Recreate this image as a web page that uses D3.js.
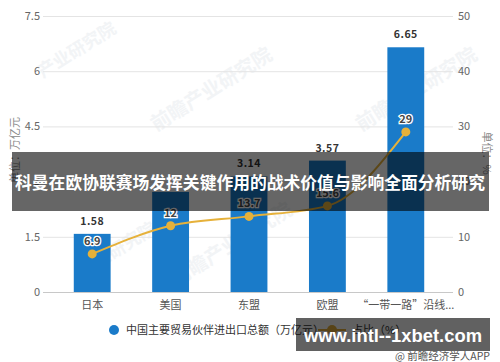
<!DOCTYPE html>
<html><head><meta charset="utf-8">
<script src="https://cdn.jsdelivr.net/npm/d3@7/dist/d3.min.js"></script>
<style>
html,body{margin:0;padding:0;background:#fff;}
svg{display:block;font-family:"Noto Sans CJK SC","Noto Sans",sans-serif;}
</style></head>
<body>
<svg id="c" width="500" height="362"></svg>
<script>
const categories = ["日本", "美国", "东盟", "欧盟", "“一带一路”沿线..."];
const tradeTotals = [1.58, 2.72, 3.14, 3.57, 6.65];
const shares = [6.9, 12, 13.7, 15.6, 29];
const leftTicks = [0, 1.5, 3, 4.5, 6, 7.5];
const rightTicks = [0, 10, 20, 30, 40, 50];
const barLabels = ["1.58", "", "3.14", "3.57", "6.65"];
const shareLabels = ["6.9", "12", "13.7", "15.6", "29"];
const title = "科曼在欧协联赛场发挥关键作用的战术价值与影响全面分析研究";
const legendBar = "中国主要贸易伙伴进出口总额（万亿元）";
const legendLine = "占比（%）";
const leftTitle = "单位：万亿元";
const rightTitle = "单位：%";
const siteMark = "www.intl--1xbet.com";
const sourceMark = "@ 前瞻经济学人APP";
const watermarks = ["前瞻产业研究院", "产业研究院"];

const svg = d3.select("#c");
const plotL = 43, plotR = 453, plotTop = 16, plotBottom = 292;

const x = d3.scaleBand().domain(categories).range([53, 445]).paddingInner(0.53).paddingOuter(0.265);
const yL = d3.scaleLinear().domain([0, 7.5]).range([plotBottom, plotTop]);
const yR = d3.scaleLinear().domain([0, 50]).range([plotBottom, plotTop]);

// faint watermarks
const wm = svg.append("g").attr("fill", "#f2f4f6").attr("font-weight", "bold");
[[80, 55, 0.8, 1], [215, 95, 0.9, 0], [420, 95, 0.9, 0], [235, 250, 0.9, 0], [120, 255, 0.8, 1]].forEach(([cx, cy, s, i]) => {
  wm.append("text").attr("transform", `translate(${cx},${cy}) rotate(-32) scale(${s})`)
    .attr("text-anchor", "middle").attr("font-size", 22).text(watermarks[i]);
});

// gridlines
svg.append("g").selectAll("line").data(leftTicks).join("line")
  .attr("x1", plotL).attr("x2", plotR)
  .attr("y1", d => yL(d) + 0.5).attr("y2", d => yL(d) + 0.5)
  .attr("stroke", d => d === 0 ? "#c8c8c8" : "#e4e4e4").attr("stroke-width", 1);

// left axis labels
svg.append("g").selectAll("text").data(leftTicks).join("text")
  .attr("x", 40).attr("y", d => yL(d)).attr("dy", "0.35em")
  .attr("text-anchor", "end").attr("font-size", 11).attr("fill", "#666")
  .text(d => d);
// right axis labels
svg.append("g").selectAll("text").data(rightTicks).join("text")
  .attr("x", 458).attr("y", d => yR(d)).attr("dy", "0.35em")
  .attr("text-anchor", "start").attr("font-size", 11).attr("fill", "#666")
  .text(d => d);

// axis titles
svg.append("text").attr("transform", "translate(15,150) rotate(-90)")
  .attr("text-anchor", "middle").attr("dy", "0.35em").attr("font-size", 11).attr("fill", "#888").text(leftTitle);
svg.append("text").attr("transform", "translate(487,153) rotate(90)")
  .attr("text-anchor", "middle").attr("dy", "0.35em").attr("font-size", 11).attr("fill", "#888").text(rightTitle);

// x labels
svg.append("g").selectAll("text").data(categories).join("text")
  .attr("x", d => x(d) + x.bandwidth() / 2).attr("y", 305).attr("dy", "0.35em")
  .attr("text-anchor", "middle").attr("font-size", 11).attr("fill", "#555").text(d => d);

// bars
svg.append("g").selectAll("rect").data(tradeTotals).join("rect")
  .attr("x", (d, i) => x(categories[i])).attr("width", x.bandwidth())
  .attr("y", d => yL(d)).attr("height", d => plotBottom - yL(d))
  .attr("fill", "#1a7bc9");

// bar labels
svg.append("g").selectAll("text").data(tradeTotals).join("text")
  .attr("x", (d, i) => x(categories[i]) + x.bandwidth() / 2).attr("y", d => yL(d) - 9)
  .attr("text-anchor", "middle").attr("font-size", 10.5).attr("font-weight", "bold").attr("fill", "#333")
  .attr("letter-spacing", 0.5)
  .text((d, i) => barLabels[i]);

// line
const pts = shares.map((v, i) => [x(categories[i]) + x.bandwidth() / 2, yR(v)]);
svg.append("path").datum(pts)
  .attr("d", d3.line().curve(d3.curveMonotoneX))
  .attr("fill", "none").attr("stroke", "#e6b13a").attr("stroke-width", 2);
svg.append("g").selectAll("circle").data(pts).join("circle")
  .attr("cx", d => d[0]).attr("cy", d => d[1]).attr("r", 4.5).attr("fill", "#e6b13a");
svg.append("g").selectAll("text").data(pts).join("text")
  .attr("x", d => d[0]).attr("y", d => d[1] - 9)
  .attr("text-anchor", "middle").attr("font-size", 11).attr("font-weight", "bold")
  .attr("fill", "#444").attr("stroke", "#fff").attr("stroke-width", 2.5).attr("paint-order", "stroke")
  .text((d, i) => shareLabels[i]);

// legend
svg.append("circle").attr("cx", 114).attr("cy", 330).attr("r", 5).attr("fill", "#1a7bc9");
svg.append("text").attr("x", 126).attr("y", 330).attr("dy", "0.35em").attr("font-size", 11).attr("fill", "#333").text(legendBar);
svg.append("line").attr("x1", 318).attr("x2", 346).attr("y1", 330).attr("y2", 330).attr("stroke", "#e6b13a").attr("stroke-width", 2);
svg.append("circle").attr("cx", 332).attr("cy", 330).attr("r", 5).attr("fill", "#e6b13a");
svg.append("text").attr("x", 352).attr("y", 330).attr("dy", "0.35em").attr("font-size", 11).attr("fill", "#333").text(legendLine);

// title banner
svg.append("rect").attr("x", 12).attr("y", 152).attr("width", 477).attr("height", 59).attr("fill", "rgba(0,0,0,0.6)");
svg.append("text").attr("x", 250).attr("y", 183).attr("dy", "0.35em").attr("text-anchor", "middle")
  .attr("font-size", 16.8).attr("font-weight", "bold").attr("fill", "#fff").text(title);

// site watermark box
svg.append("rect").attr("x", 296).attr("y", 318).attr("width", 194).attr("height", 33).attr("fill", "rgba(0,0,0,0.62)");
svg.append("text").attr("x", 393).attr("y", 335).attr("dy", "0.35em").attr("text-anchor", "middle")
  .attr("font-size", 19).attr("font-weight", "bold").attr("fill", "#fff").attr("font-family", "'Liberation Sans',Arial,sans-serif")
  .attr("textLength", 178).attr("lengthAdjust", "spacingAndGlyphs").text(siteMark);
svg.append("text").attr("x", 490).attr("y", 356).attr("dy", "0.35em").attr("text-anchor", "end")
  .attr("font-size", 10.5).attr("fill", "#555").text(sourceMark);
</script>
</body></html>
